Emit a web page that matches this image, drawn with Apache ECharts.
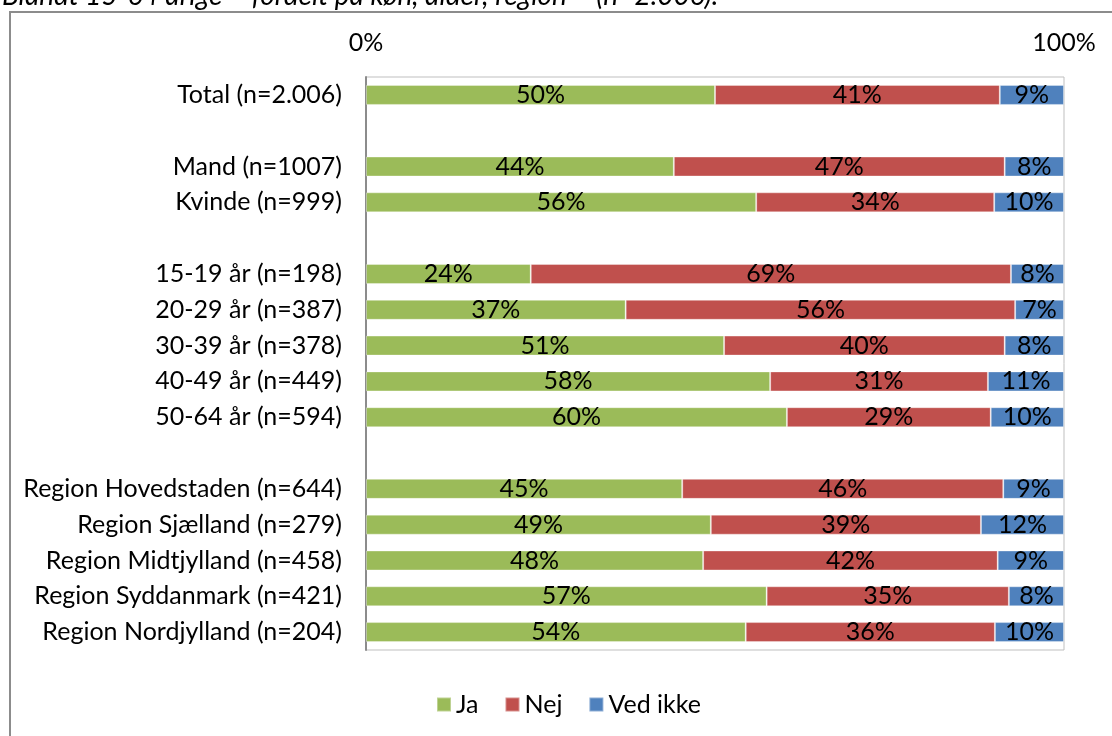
<!DOCTYPE html>
<html><head><meta charset="utf-8">
<script src="https://cdn.jsdelivr.net/npm/echarts@6/dist/echarts.min.js"></script>
<style>html,body{margin:0;padding:0;background:#fff;}#c{width:1112px;height:736px;}</style>
</head><body><div id="c"></div>
<script>
const categories = ['Total (n=2.006)','', 'Mand (n=1007)','Kvinde (n=999)','', '15-19 år (n=198)','20-29 år (n=387)','30-39 år (n=378)','40-49 år (n=449)','50-64 år (n=594)','', 'Region Hovedstaden (n=644)','Region Sjælland (n=279)','Region Midtjylland (n=458)','Region Syddanmark (n=421)','Region Nordjylland (n=204)'];
// bar widths (share, %)
const ja      = [50.0, null, 44.1, 55.9, null, 23.6, 37.2, 51.3, 57.9, 60.3, null, 45.3, 49.4, 48.3, 57.4, 54.4];
const nej     = [40.8, null, 47.4, 34.1, null, 68.8, 55.8, 40.2, 31.2, 29.2, null, 46.0, 38.7, 42.2, 34.7, 35.7];
const vedIkke = [ 9.2, null,  8.5, 10.0, null,  7.6,  7.0,  8.5, 10.9, 10.5, null,  8.7, 11.9,  9.5,  7.9,  9.9];
// printed labels
const jaLbl   = [50, null, 44, 56, null, 24, 37, 51, 58, 60, null, 45, 49, 48, 57, 54];
const nejLbl  = [41, null, 47, 34, null, 69, 56, 40, 31, 29, null, 46, 39, 42, 35, 36];
const vedLbl  = [ 9, null,  8, 10, null,  8,  7,  8, 11, 10, null,  9, 12,  9,  8, 10];
const xTicks = ['0%','100%'];
const seriesNames = ['Ja','Nej','Ved ikke'];
const colors = ['#9BBB59','#C0504D','#4F81BD'];
const FONT = 'Lato, "Open Sans", sans-serif';
const FS = 25;

const chart = echarts.init(document.getElementById('c'));
function mk(name, vals, lbls, color){
  return {
    name, type:'bar', stack:'s', data: vals, barWidth: 20,
    itemStyle:{color, borderColor:'rgba(255,255,255,0.35)', borderWidth:1},
    label:{show:true, position:'inside', color:'#000', fontFamily:FONT, fontSize:FS,
      formatter: p => lbls[p.dataIndex] == null ? '' : lbls[p.dataIndex] + '%'},
    emphasis:{disabled:true}, animation:false
  };
}
chart.setOption({
  animation:false,
  textStyle:{fontFamily:FONT},
  graphic:[
    {type:'rect', shape:{x:10, y:12, width:1200, height:800}, style:{fill:'none', stroke:'#8c8c8c', lineWidth:2}, z:-10},
    {type:'text', left:2, top:-18, style:{text:'Blandt 15-64 årige – fordelt på køn, alder, region – (n=2.006).', font:'italic 28px '+FONT, fill:'#000'}}
  ],
  grid:{left:366, right:48, top:77, bottom:86, show:true, borderColor:'#bfbfbf', borderWidth:1, containLabel:false},
  legend:{top:687, left:431, itemWidth:14, itemHeight:14, itemGap:26, icon:'rect',
    textStyle:{fontFamily:FONT, fontSize:FS, color:'#000'}, data:seriesNames},
  xAxis:{type:'value', position:'top', min:0, max:100, interval:100,
    axisLine:{show:false}, axisTick:{show:false}, splitLine:{show:false},
    axisLabel:{fontFamily:FONT, fontSize:FS, color:'#000', margin:22,
      formatter: v => xTicks[v/100]}},
  yAxis:{type:'category', inverse:true, data:categories,
    axisLine:{show:true, lineStyle:{color:'#8c8c8c', width:2}}, axisTick:{show:false},
    axisLabel:{fontFamily:FONT, fontSize:FS, color:'#000', margin:24, interval:0}},
  series:[mk(seriesNames[0], ja, jaLbl, colors[0]), mk(seriesNames[1], nej, nejLbl, colors[1]), mk(seriesNames[2], vedIkke, vedLbl, colors[2])]
});
</script></body></html>
